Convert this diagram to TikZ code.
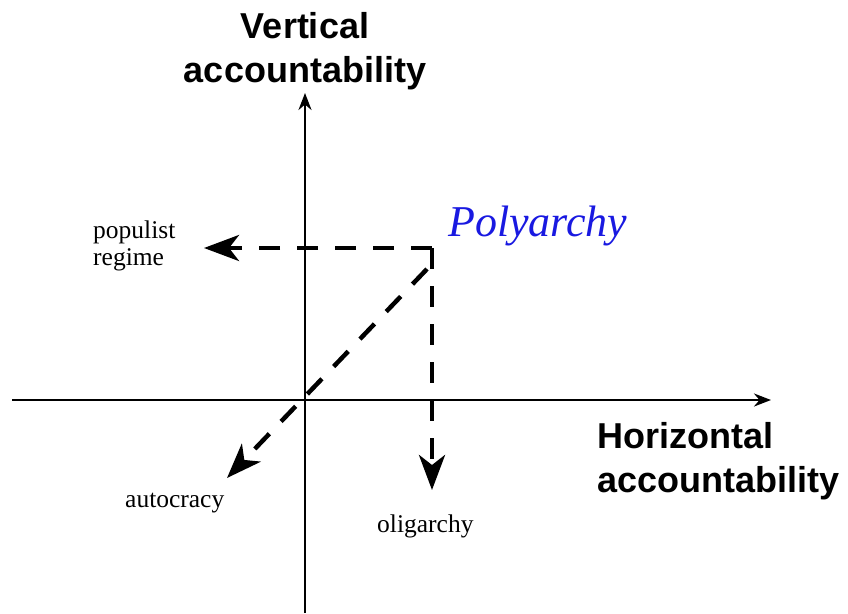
\documentclass[tikz,border=0pt]{standalone}
\usepackage{fontspec}
\setmainfont{Liberation Serif}
\setsansfont{Liberation Sans}
\usetikzlibrary{arrows.meta}
\definecolor{polyblue}{RGB}{25,25,225}
\tikzstyle{axis}=[line width=2.5pt,-{Stealth[length=17pt,width=13pt]}]
\tikzstyle{move}=[line width=4.5pt,dash pattern=on 21pt off 17pt,
  -{Stealth[length=35pt,width=26pt,inset=10pt]}]
\tikzstyle{dimlabel}=[inner sep=0pt,font=\sffamily\bfseries\fontsize{36}{44}\selectfont]
\tikzstyle{regime}=[inner sep=0pt,align=left,font=\fontsize{25.5}{27}\selectfont]

\begin{document}
\begin{tikzpicture}[x=1pt, y=-1pt]
  \useasboundingbox (0,0) rectangle (848,613);

  % the two axes
  \coordinate (vbot) at (305,613);
  \coordinate (vtop) at (305,93);
  \coordinate (hleft) at (12,400);
  \coordinate (hright) at (771,400);
  \draw[axis] (vbot) -- (vtop);
  \draw[axis] (hleft) -- (hright);

  % base is the last line of a two-line label
  \node[dimlabel, align=center, anchor=base] (vert) at (305,82) {Vertical\\accountability};
  \node[dimlabel, align=left, anchor=base west] (horiz) at (597,492) {Horizontal\\accountability};

  % regime types
  \node[inner sep=0pt, anchor=base west, text=polyblue,
    font=\itshape\fontsize{44}{50}\selectfont] (polyarchy) at (448,236) {Polyarchy};
  \node[regime, anchor=base west] (populist) at (93,265) {populist\\regime};
  \node[regime, anchor=base west] (autocracy) at (125,507) {autocracy};
  \node[regime, anchor=base west] (oligarchy) at (377,532) {oligarchy};

  % moving away from polyarchy
  \coordinate (p) at (432,248);
  \coordinate (pdiag) at (427,269);
  \coordinate (toleft) at (204,248);
  \coordinate (todown) at (432,490);
  \coordinate (todiag) at (227,478);
  \draw[move] (p) -- (toleft);
  \draw[move] (p) -- (todown);
  \draw[move] (pdiag) -- (todiag);
\end{tikzpicture}
\end{document}
